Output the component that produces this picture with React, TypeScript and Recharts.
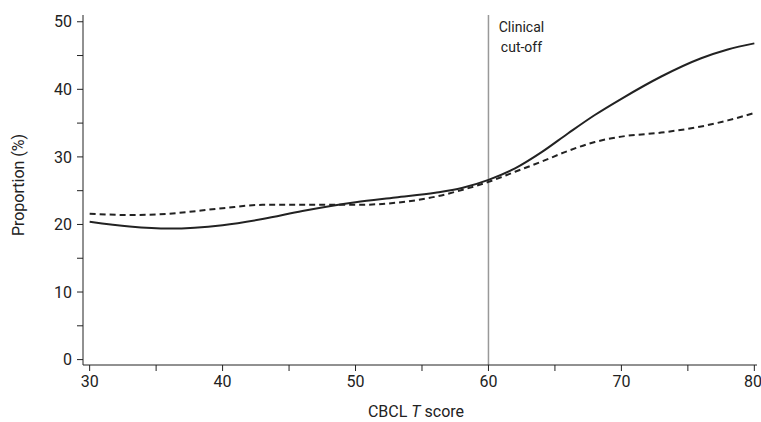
import { LineChart, Line, XAxis, YAxis, ReferenceLine } from "recharts";

// CBCL T score grid the curves are sampled on
const scores = [30, 33, 36, 40, 43, 46, 50, 53, 56, 58, 60, 62, 64, 66, 68, 70, 73, 76, 78, 80];
// solid curve
const solidValues = [20.4, 19.7, 19.4, 19.9, 20.8, 22.0, 23.3, 24.0, 24.7, 25.4, 26.6, 28.3, 30.7, 33.5, 36.2, 38.6, 41.9, 44.6, 45.9, 46.8];
// dashed curve
const dashedValues = [21.6, 21.4, 21.6, 22.4, 22.9, 22.9, 22.9, 23.2, 24.1, 25.1, 26.3, 27.8, 29.3, 30.9, 32.2, 33.0, 33.6, 34.5, 35.4, 36.5];

const xTicks = [30, 35, 40, 45, 50, 55, 60, 65, 70, 75, 80];
const yTicks = [0, 5, 10, 15, 20, 25, 30, 35, 40, 45, 50];
const cutOff = 60;

const data = scores.map((s, i) => ({
  score: s,
  solid: solidValues[i],
  dashed: dashedValues[i],
}));

const font = "Roboto, 'Liberation Sans', sans-serif";
const ink = "#222";

const XTitle = (props: any) => {
  const { viewBox } = props;
  const cx = viewBox.x + viewBox.width / 2 - 4;
  return (
    <text x={cx} y={417} textAnchor="middle" fontFamily={font} fontSize={16} fill={ink}>
      CBCL <tspan fontStyle="italic">T</tspan> score
    </text>
  );
};

const YTitle = () => (
  <text
    x={24}
    y={185}
    transform="rotate(-90 24 185)"
    textAnchor="middle"
    fontFamily={font}
    fontSize={16}
    fill={ink}
  >
    Proportion (%)
  </text>
);

const CutLabel = (props: any) => {
  const { viewBox } = props;
  const x = viewBox.x + 33;
  return (
    <text x={x} textAnchor="middle" fontFamily={font} fontSize={14} fill={ink}>
      <tspan x={x} y={32}>Clinical</tspan>
      <tspan x={x} y={52}>cut-off</tspan>
    </text>
  );
};

export default function App() {
  return (
    <div style={{ position: "absolute", left: 0, top: 0, background: "#fff" }}>
      <LineChart width={761} height={422} data={data} margin={{ top: 15, right: 4, left: 0, bottom: 0 }}>
        <XAxis
          dataKey="score"
          type="number"
          domain={[29.5, 80.2]}
          ticks={xTicks}
          tickFormatter={(v: number) => (v % 10 === 0 ? String(v) : "")}
          allowDataOverflow
          height={57}
          tickSize={6}
          tickMargin={5}
          stroke={ink}
          tick={{ fill: ink, fontSize: 16, fontFamily: font }}
          label={<XTitle />}
        />
        <YAxis
          type="number"
          domain={[-0.8, 51]}
          ticks={yTicks}
          tickFormatter={(v: number) => (v % 10 === 0 ? String(v) : "")}
          allowDataOverflow
          width={83}
          tickSize={6}
          tickMargin={5}
          stroke={ink}
          tick={{ fill: ink, fontSize: 16, fontFamily: font }}
          label={<YTitle />}
        />
        <ReferenceLine x={cutOff} stroke="#999" strokeWidth={1.5} label={<CutLabel />} />
        <Line
          type="monotone"
          dataKey="solid"
          stroke={ink}
          strokeWidth={2}
          dot={false}
          isAnimationActive={false}
        />
        <Line
          type="monotone"
          dataKey="dashed"
          stroke={ink}
          strokeWidth={2}
          strokeDasharray="6 4"
          dot={false}
          isAnimationActive={false}
        />
      </LineChart>
    </div>
  );
}
